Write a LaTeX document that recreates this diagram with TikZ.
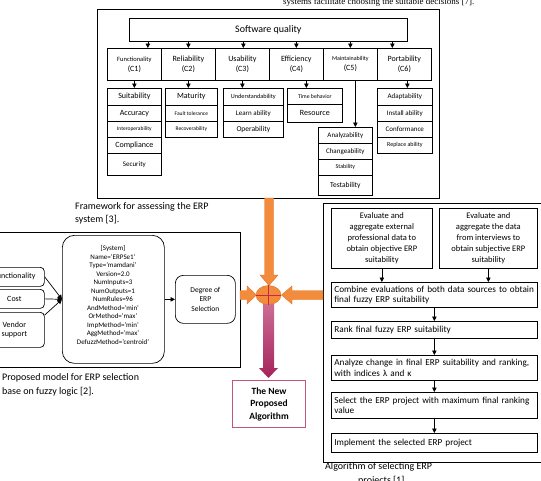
\documentclass[tikz,border=0pt]{standalone}
\usepackage{fontspec}
\setmainfont{Carlito}
\newfontfamily\serifA{Liberation Serif}
\usetikzlibrary{arrows.meta,shapes.geometric,calc}
\definecolor{orA}{RGB}{242,140,60}
\definecolor{orB}{RGB}{225,115,35}
\definecolor{crossR}{RGB}{200,40,70}
\definecolor{magT}{RGB}{205,110,150}
\definecolor{magB}{RGB}{165,35,90}
\definecolor{pinkB}{RGB}{195,85,125}
\newcommand{\bx}[7]{%
  \pgfmathsetmacro{\myBW}{#4-#2}%
  \pgfmathsetmacro{\myBH}{#5-#3}%
  \node[#6, minimum width=\myBW pt, minimum height=\myBH pt, anchor=north west] (#1) at (#2,#3) {#7};}
\newcommand{\fz}[1]{\fontsize{#1}{10}\selectfont}
\begin{document}
\begin{tikzpicture}[x=1pt,y=-1pt,
  every node/.style={inner sep=0pt},
  box/.style={draw, line width=0.7pt},
  cbox/.style={box, align=center, font=\fontsize{8}{10}\selectfont},
  kbox/.style={box, align=center},
  rbox/.style={box, text width=200pt, align=left, font=\fontsize{9.2}{10.2}\selectfont},
  ebox/.style={box, align=center, font=\fontsize{8.5}{11}\selectfont},
  ar/.style={-{Triangle[length=4.5pt,width=4.5pt]}, line width=0.7pt},
  capt/.style={anchor=west, align=left, font=\fontsize{10}{13.5}\selectfont}]
\useasboundingbox (0,0) rectangle (541,480);

% top text
\node[anchor=base west, font=\serifA\fontsize{9}{11}\selectfont] (toptext) at (283,4) {systems facilitate choosing the suitable decisions [7].};

% ===== ISO framework =====
\bx{frameA}{97}{9}{439}{198}{box}{}
\bx{sq}{129}{18}{407}{40.5}{box, font=\fontsize{10}{12}\selectfont}{Software quality}

\bx{c1}{107}{48}{161}{80}{cbox}{{\fz{6.5}Functionality}\\(C1)}
\bx{c2}{161}{48}{215}{80}{cbox}{Reliability\\(C2)}
\bx{c3}{215}{48}{269}{80}{cbox}{Usability\\(C3)}
\bx{c4}{269}{48}{323}{80}{cbox}{Efficiency\\(C4)}
\bx{c5}{323}{48}{377}{80}{cbox}{{\fz{6}Maintainability}\\(C5)}
\bx{c6}{377}{48}{431}{80}{cbox}{Portability\\(C6)}

\draw[ar] ([xshift=13.5pt]c1.north |- sq.south) -- ([xshift=13.5pt]c1.north);
\draw[ar] (c2.north |- sq.south) -- (c2.north);
\draw[ar] ([xshift=1pt]c3.north |- sq.south) -- ([xshift=1pt]c3.north);
\draw[ar] (c4.north |- sq.south) -- (c4.north);
\draw[ar] (c5.north |- sq.south) -- (c5.north);
\draw[ar] ([xshift=-12pt]c6.north |- sq.south) -- ([xshift=-12pt]c6.north);

% Functionality children
\bx{f1}{107}{88}{161}{105}{kbox, font=\fz{8}}{Suitability}
\bx{f2}{107}{105}{161}{121}{kbox, font=\fz{8}}{Accuracy}
\bx{f3}{107}{121}{161}{137}{kbox, font=\fz{5.5}}{Interoperability}
\bx{f4}{107}{137}{161}{153}{kbox, font=\fz{8}}{Compliance}
\bx{f5}{107}{153}{161}{175}{kbox, font=\fz{7}}{Security}
% Reliability children
\bx{r1}{165}{88}{217}{105}{kbox, font=\fz{8}}{Maturity}
\bx{r2}{165}{105}{217}{121}{kbox, font=\fz{5.5}}{Fault tolerance}
\bx{r3}{165}{121}{217}{137}{kbox, font=\fz{5.5}}{Recoverability}
% Usability children
\bx{u1}{223}{88}{283}{105}{kbox, font=\fz{6.2}}{Understandability}
\bx{u2}{223}{105}{283}{121}{kbox, font=\fz{7}}{Learn ability}
\bx{u3}{223}{121}{283}{137}{kbox, font=\fz{7.5}}{Operability}
% Efficiency children
\bx{e1}{287}{88}{342}{104}{kbox, font=\fz{5.8}}{Time behavior}
\bx{e2}{287}{104}{342}{122}{kbox, font=\fz{8}}{Resource}
% Maintainability children
\bx{m1}{318}{127}{372}{143}{kbox, font=\fz{7}}{Analyzability}
\bx{m2}{318}{143}{372}{159}{kbox, font=\fz{7}}{Changeability}
\bx{m3}{318}{159}{372}{175}{kbox, font=\fz{6}}{Stability}
\bx{m4}{318}{175}{372}{195}{kbox, font=\fz{7.5}}{Testability}
% Portability children
\bx{p1}{377}{88}{432}{105}{kbox, font=\fz{7}}{Adaptability}
\bx{p2}{377}{105}{432}{121}{kbox, font=\fz{7}}{Install ability}
\bx{p3}{377}{121}{432}{137}{kbox, font=\fz{7}}{Conformance}
\bx{p4}{377}{137}{432}{153}{kbox, font=\fz{6}}{Replace ability}

\draw[ar] (c1.south) -- (f1.north);
\draw[ar] (c2.south) -- (c2.south |- r1.north);
\draw[ar] (c3.south) -- (c3.south |- u1.north);
\draw[ar] ([xshift=10pt]c4.south) -- ([xshift=10pt]c4.south |- e1.north);
\draw[ar] ([xshift=5pt]c5.south) -- ([xshift=5pt]c5.south |- m1.north);
\draw[ar] ([xshift=3pt]c6.south) -- ([xshift=3pt]c6.south |- p1.north);

\node[capt] (cap1) at (75,213.5) {Framework for assessing the ERP\\system [3].};

% ===== fuzzy model =====
\bx{frameB}{-20}{232}{240}{367}{box}{}
\bx{sys}{62}{235}{164}{363}{box, rounded corners=12pt}{}
\node[font=\fontsize{7}{8.55}\selectfont, align=center] (systxt) at (113,295)
  {[System]\\Name='ERPSe1'\\Type='mamdani'\\Version=2.0\\NumInputs=3\\NumOutputs=1\\NumRules=96\\AndMethod='min'\\OrMethod='max'\\ImpMethod='min'\\AggMethod='max'\\DefuzzMethod='centroid'};
\bx{in1}{-16}{267}{44}{286}{box, rounded corners=4pt, font=\fz{8}}{Functionality}
\bx{in2}{-16}{289}{44}{308}{box, rounded corners=4pt, font=\fz{8}}{Cost}
\bx{in3}{-16}{312}{44}{347}{box, rounded corners=4pt, align=center, font=\fontsize{8}{9.5}\selectfont}{Vendor\\support}
\draw[ar] (in1.east) -- (sys.west);
\draw[ar] (in2.east) -- (sys.west);
\draw[ar] ([yshift=-3pt]in3.north east) -- (sys.west);
\bx{deg}{175}{275}{235}{323}{box, rounded corners=8pt, align=center, font=\fontsize{7.5}{9.5}\selectfont}{Degree of\\ERP\\Selection}
\draw[ar] (sys.east) -- (deg.west);

\node[capt] (cap2) at (2,385) {Proposed model for ERP selection\\base on fuzzy logic [2].};

% ===== algorithm (right) =====
\bx{frameC}{323}{203}{548}{462}{box}{}
\bx{ev1}{331}{208}{432}{268}{ebox}{Evaluate and\\aggregate external\\professional data to\\obtain objective ERP\\suitability}
\bx{ev2}{439}{208}{537}{268}{ebox}{Evaluate and\\aggregate the data\\from interviews to\\obtain subjective ERP\\suitability}
\bx{comb}{331}{282}{537}{307}{rbox}{Combine evaluations of both data sources to obtain\\final fuzzy ERP suitability}
\bx{rank}{331}{321}{537}{338}{rbox}{Rank final fuzzy ERP suitability}
\bx{anal}{331}{355}{537}{380}{rbox}{Analyze change in final ERP suitability and ranking,\\with indices λ and κ}
\bx{sel}{331}{392}{537}{418}{rbox}{Select the ERP project with maximum final ranking\\value}
\bx{impl}{331}{433}{537}{452}{rbox}{Implement the selected ERP project}
\draw[ar] (ev1.south) -- (ev1.south |- comb.north);
\draw[ar] (ev2.south) -- (ev2.south |- comb.north);
\draw[ar] (comb.south) -- (rank.north);
\draw[ar] (rank.south) -- (anal.north);
\draw[ar] (anal.south) -- (sel.north);
\draw[ar] (sel.south) -- (impl.north);

\node[capt] (cap3) at (325,467) {Algorithm of selecting ERP};
\node[capt] (cap3b) at (358,480.5) {projects [1].};

% ===== big arrows and hub =====
\filldraw[fill=orA, draw=orB, line width=0.4pt] (264.5,198) -- (273.5,198) -- (273.5,275) -- (278,275) -- (269,285.5) -- (260,275) -- (264.5,275) -- cycle;
\filldraw[fill=orA, draw=orB, line width=0.4pt] (240,290.5) -- (247,290.5) -- (247,286) -- (256.5,295) -- (247,304) -- (247,299.5) -- (240,299.5) -- cycle;
\filldraw[fill=orA, draw=orB, line width=0.4pt] (323,290.5) -- (292,290.5) -- (292,286) -- (281.5,295) -- (292,304) -- (292,299.5) -- (323,299.5) -- cycle;
\shade[top color=magT, bottom color=magB] (263,303) -- (274,303) -- (274,368) -- (278,368) -- (268.5,378) -- (259,368) -- (263,368) -- cycle;
\node[ellipse, draw=orB, fill=orA, line width=0.4pt, minimum width=25pt, minimum height=19pt] (hub) at (268.5,295) {};
\draw[crossR, line width=0.8pt] (hub.west) -- (hub.east) (hub.north) -- (hub.south);

\bx{newalg}{232}{380}{305}{427}{draw=pinkB, line width=1pt, align=center, font=\bfseries\fontsize{9.5}{12.5}\selectfont}{The New\\Proposed\\Algorithm}
\end{tikzpicture}
\end{document}
